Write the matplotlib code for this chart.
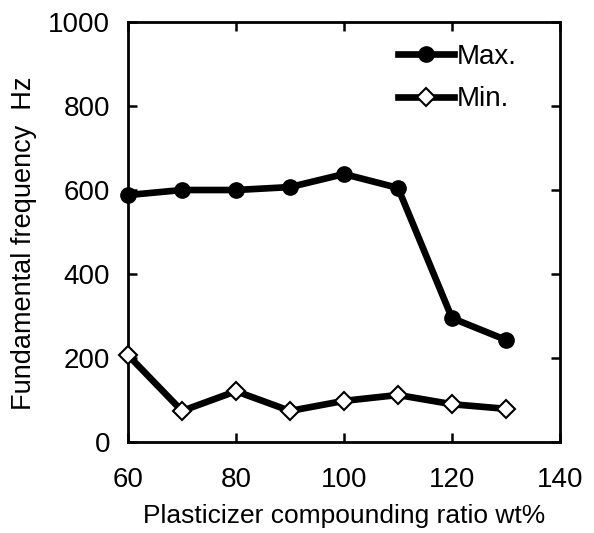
import matplotlib
matplotlib.use("Agg")
import matplotlib.pyplot as plt

# Data
ratio = [60, 70, 80, 90, 100, 110, 120, 130]
freq_max = [588, 600, 600, 607, 638, 605, 295, 243]
freq_min = [207, 74, 121, 74, 98, 112, 90, 79]

plt.rcParams["font.family"] = ["Liberation Sans", "DejaVu Sans"]

fig = plt.figure(figsize=(5.94, 5.33), dpi=100)
ax = fig.add_axes([0.2155, 0.1707, 0.7273, 0.788])

ax.plot(ratio, freq_max, color="black", lw=4.8, marker="o", ms=11,
        mfc="black", mec="black", label="Max.", clip_on=False, zorder=3)
ax.plot(ratio, freq_min, color="black", lw=4.8, marker="D", ms=9,
        mfc="white", mec="black", mew=1.5, label="Min.", clip_on=False, zorder=3)

ax.set_xlim(60, 140)
ax.set_ylim(0, 1000)
ax.set_xticks([60, 80, 100, 120, 140])
ax.set_yticks([0, 200, 400, 600, 800, 1000])

ax.tick_params(direction="in", length=6.5, width=1.8, top=True, right=True,
               labelsize=20)
ax.tick_params(axis="x", pad=18)
ax.tick_params(axis="y", pad=13)
for s in ax.spines.values():
    s.set_linewidth(2)

ax.set_xlabel("Plasticizer compounding ratio wt%", fontsize=19, labelpad=8)
ax.set_ylabel("Fundamental frequency  Hz", fontsize=19.5)
ax.yaxis.set_label_coords(-0.21, 0.474)

ax.legend(loc="upper right", bbox_to_anchor=(0.925, 0.975), frameon=False,
          fontsize=20, handlelength=2.0, handletextpad=0.1,
          borderaxespad=0, labelspacing=0.6)

fig.savefig("out.png", dpi=100)
